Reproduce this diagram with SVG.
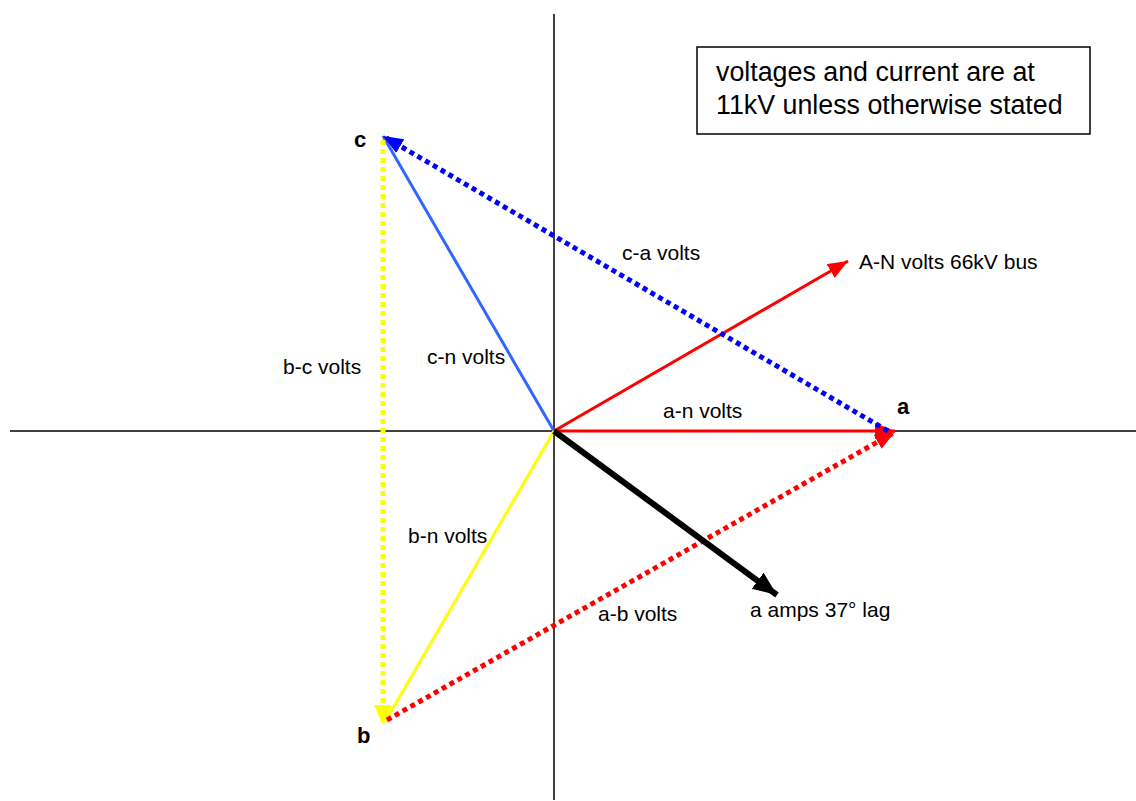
<svg xmlns="http://www.w3.org/2000/svg" width="1136" height="801" viewBox="0 0 1136 801">
<style>
.lbl{font-family:"Liberation Sans",Arial,sans-serif;font-size:21px;fill:#000}
.pt{font-family:"Liberation Sans",Arial,sans-serif;font-size:22px;font-weight:bold;fill:#000}
.box{font-family:"Liberation Sans",Arial,sans-serif;font-size:26.8px;fill:#000}
.axis{stroke:#000;stroke-width:1.5;fill:none}
.dot{stroke-width:5;stroke-dasharray:5 4;fill:none}
</style>
<defs>
<marker id="mRed" markerUnits="userSpaceOnUse" markerWidth="22" markerHeight="18" refX="20" refY="8" orient="auto"><path d="M0,0 L20,8 L0,16 z" fill="#ff0000"/></marker>
<marker id="mBlue" markerUnits="userSpaceOnUse" markerWidth="22" markerHeight="18" refX="20" refY="8" orient="auto"><path d="M0,0 L20,8 L0,16 z" fill="#0000ff"/></marker>
<marker id="mYel" markerUnits="userSpaceOnUse" markerWidth="22" markerHeight="20" refX="20" refY="9" orient="auto"><path d="M0,0 L20,9 L0,18 z" fill="#ffff00"/></marker>
<marker id="mBlk" markerUnits="userSpaceOnUse" markerWidth="26" markerHeight="22" refX="24" refY="10" orient="auto"><path d="M0,0 L24,10 L0,20 z" fill="#000"/></marker>
</defs>
<g id="axes">
<line class="axis" x1="554" y1="14" x2="554" y2="800"/>
<line class="axis" x1="10" y1="431" x2="1136" y2="431"/>
</g>
<g id="connectors">
<line x1="554" y1="431" x2="383" y2="136" stroke="#3366ff" stroke-width="3"/>
<line x1="554" y1="431" x2="385" y2="722" stroke="#ffff00" stroke-width="3"/>
<line x1="554" y1="431" x2="848" y2="261" stroke="#ff0000" stroke-width="3" marker-end="url(#mRed)"/>
<line x1="554" y1="431" x2="895" y2="431" stroke="#ff0000" stroke-width="3" marker-end="url(#mRed)"/>
<line class="dot" x1="888" y1="431" x2="383" y2="136" stroke="#0000ff" marker-end="url(#mBlue)"/>
<line class="dot" x1="383" y1="140" x2="383" y2="725" stroke="#ffff00" marker-end="url(#mYel)"/>
<line class="dot" x1="387" y1="720" x2="895" y2="432" stroke="#ff0000" marker-end="url(#mRed)"/>
<line x1="554" y1="431" x2="777" y2="595" stroke="#000" stroke-width="6" marker-end="url(#mBlk)"/>
</g>
<g id="labels">
<text class="lbl" x="622" y="260">c-a volts</text>
<text class="lbl" x="859" y="269">A-N volts 66kV bus</text>
<text class="lbl" x="283" y="374">b-c volts</text>
<text class="lbl" x="427" y="364">c-n volts</text>
<text class="lbl" x="663" y="418">a-n volts</text>
<text class="lbl" x="408" y="543">b-n volts</text>
<text class="lbl" x="598" y="621">a-b volts</text>
<text class="lbl" x="750" y="617">a amps 37° lag</text>
</g>
<g id="point-c"><text class="pt" x="354" y="147">c</text></g>
<g id="point-a"><text class="pt" x="897" y="414">a</text></g>
<g id="point-b"><text class="pt" x="357" y="743">b</text></g>
<g id="note">
<rect x="697" y="47" width="393" height="87" fill="#fff" stroke="#000" stroke-width="1.5"/>
<text class="box" x="716" y="81">voltages and current are at</text>
<text class="box" x="716" y="114">11kV unless otherwise stated</text>
</g>
</svg>
